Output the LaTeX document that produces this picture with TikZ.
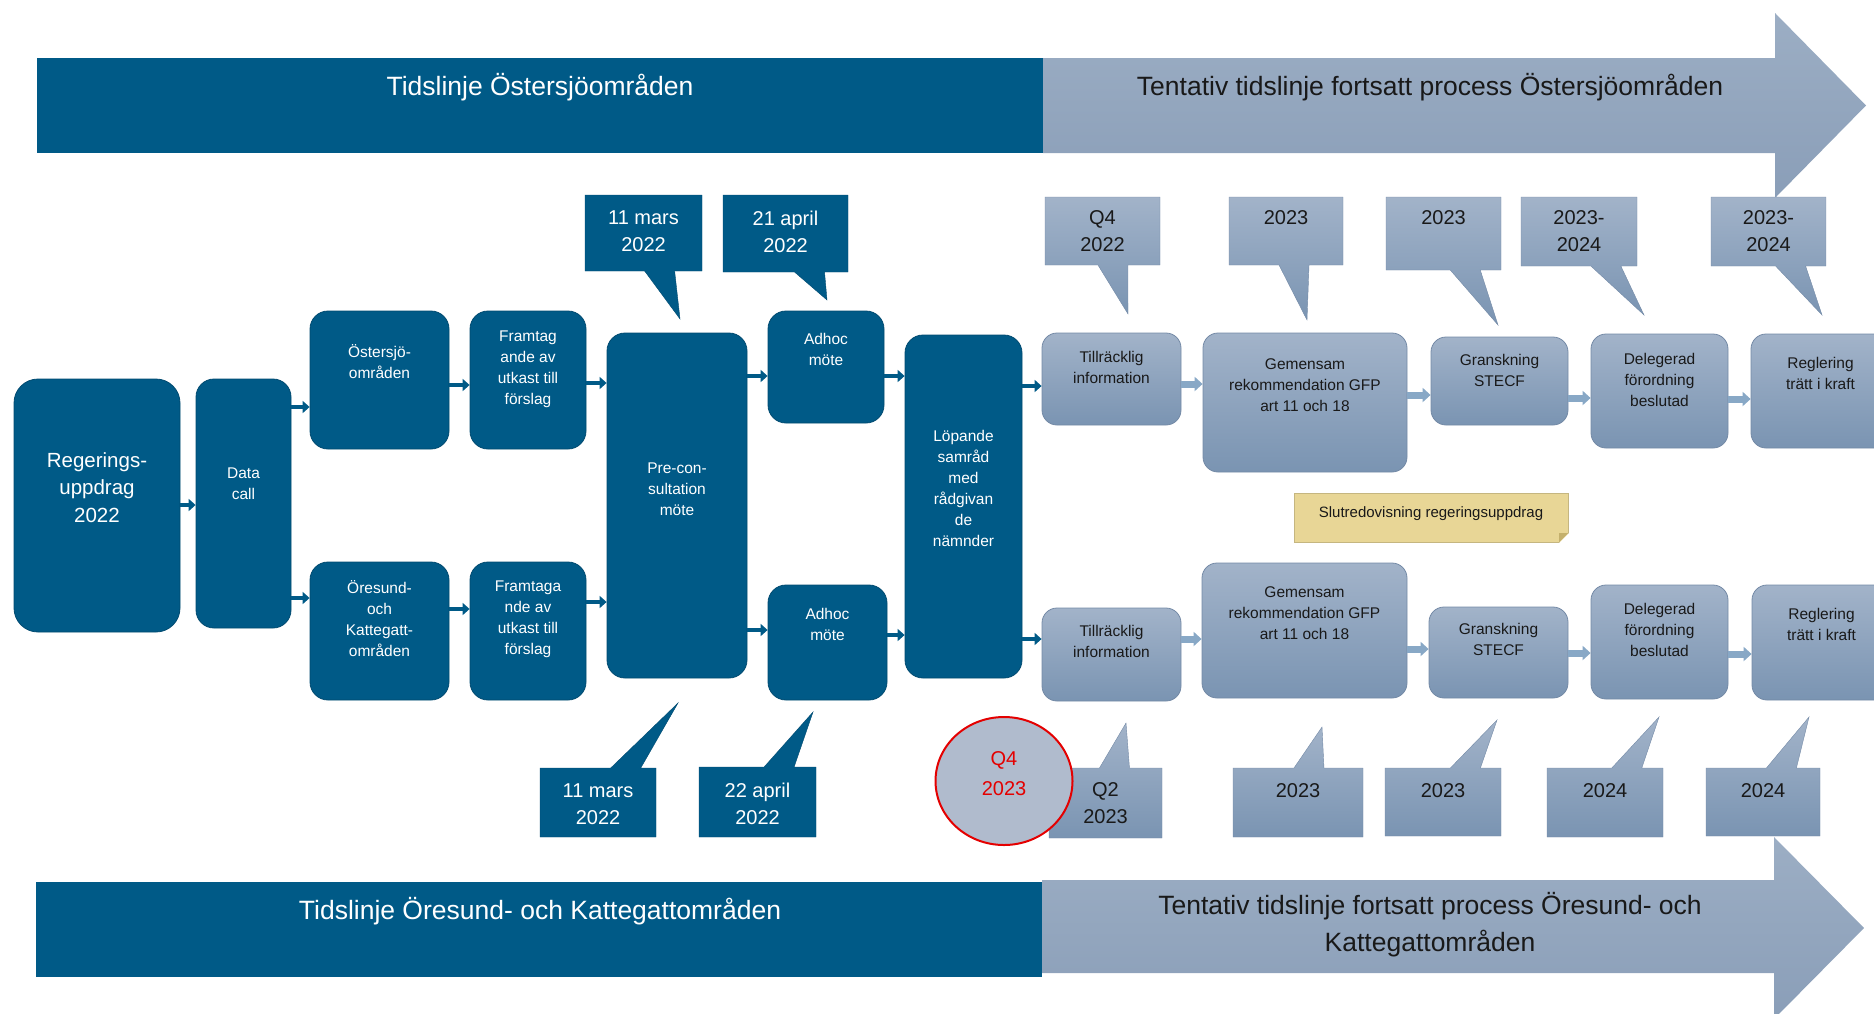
\documentclass[tikz,border=0pt]{standalone}
\usepackage{fontspec}
\setmainfont{Liberation Sans}
\usetikzlibrary{shapes.geometric,shapes.callouts,arrows.meta,calc}

\definecolor{darkblue}{RGB}{0,90,135}
\definecolor{darkedge}{RGB}{0,74,112}
\definecolor{lighttop}{RGB}{162,179,201}
\definecolor{lightbot}{RGB}{122,148,178}
\definecolor{lightedge}{RGB}{116,138,166}
\definecolor{bannertop}{RGB}{156,174,196}
\definecolor{bannerbot}{RGB}{138,158,184}
\definecolor{lightarrow}{RGB}{136,168,198}
\definecolor{notefill}{RGB}{232,214,150}
\definecolor{notefold}{RGB}{196,176,108}
\definecolor{ovalfill}{RGB}{176,187,205}
\definecolor{ovalred}{RGB}{228,0,0}
\definecolor{txtdark}{RGB}{25,25,25}

\newcommand{\lift}[2]{\raisebox{\dimexpr #1pt-.25em\relax}[0pt][0pt]{\begin{tabular}{@{}c@{}}#2\end{tabular}}}

\begin{document}
\begin{tikzpicture}[x=1pt,y=-1pt,
every node/.style={inner sep=0pt,font=\fontsize{15.5}{21}\selectfont},
dbox/.style={draw=darkedge,fill=darkblue,rounded corners=18pt,text=white,line width=0.8pt},
lbox/.style={draw=lightedge,top color=lighttop,bottom color=lightbot,rounded corners=15pt,text=txtdark,line width=0.8pt},
dcall/.style={rectangle callout,draw=darkedge,fill=darkblue,text=white,callout pointer width=30pt,font=\fontsize{20}{27}\selectfont},
lcall/.style={rectangle callout,draw=lightedge,top color=lighttop,bottom color=lightbot,text=txtdark,callout pointer width=30pt,font=\fontsize{20}{27}\selectfont},
darr/.style={line width=4pt,draw=darkblue,-{Triangle[length=7pt,width=12pt]}},
larr/.style={line width=7pt,draw=lightarrow,-{Triangle[length=8pt,width=14pt]}},
bannerw/.style={text=white,font=\fontsize{26.5}{37}\selectfont},
bannerk/.style={text=txtdark,font=\fontsize{26.5}{37}\selectfont},
note/.style={fill=notefill,draw=notefill!85!black,text=txtdark,font=\fontsize{15}{20}\selectfont},
oval/.style={ellipse,fill=ovalfill,draw=ovalred,line width=2pt,text=ovalred,font=\fontsize{20}{30}\selectfont}]
\useasboundingbox (0,0) rectangle (1874,1013);
\clip (0,0) rectangle (1874,1013);

% banners
\shade[top color=bannertop,bottom color=bannerbot] (1043,58) -- (1775,58) -- (1775,13) -- (1866,105.5) -- (1775,198) -- (1775,153) -- (1043,153) -- cycle;
\fill[darkblue] (37,58) rectangle (1043,153);
\node[bannerw] (tl1) at (540,87) {Tidslinje Östersjöområden};
\node[bannerk] (tr1) at (1430,87) {Tentativ tidslinje fortsatt process Östersjöområden};

\shade[top color=bannertop,bottom color=bannerbot] (1042,880) -- (1774,880) -- (1774,837) -- (1864,928) -- (1774,1019) -- (1774,973) -- (1042,973) -- cycle;
\fill[darkblue] (36,882) rectangle (1042,977);
\node[bannerw] (bl1) at (540,911) {Tidslinje Öresund- och Kattegattområden};
\node[bannerk] (br1) at (1430,925.5) {\lift{0}{Tentativ tidslinje fortsatt process Öresund- och\\Kattegattområden}};

% dark boxes
\node[dbox,font=\fontsize{20.5}{27.5}\selectfont,minimum width=166pt,minimum height=253pt,rounded corners=24pt] (reg) at (97,505.5) {\lift{16}{Regerings-\\uppdrag\\2022}};
\node[dbox,minimum width=95pt,minimum height=249pt] (data) at (243.5,503.5) {\lift{18.5}{Data\\call}};
\node[dbox,minimum width=139pt,minimum height=138pt] (ost) at (379.5,380) {\lift{16.5}{Östersjö-\\områden}};
\node[dbox,minimum width=116pt,minimum height=138pt] (fram1) at (528,380) {\lift{11.5}{Framtag\\ande av\\utkast till\\förslag}};
\node[dbox,minimum width=139pt,minimum height=138pt] (ore) at (379.5,631) {\lift{10.5}{Öresund-\\och\\Kattegatt-\\områden}};
\node[dbox,minimum width=116pt,minimum height=138pt] (fram2) at (528,631) {\lift{12}{Framtaga\\nde av\\utkast till\\förslag}};
\node[dbox,minimum width=140pt,minimum height=345pt] (pre) at (677,505.5) {\lift{15.5}{Pre-con-\\sultation\\möte}};
\node[dbox,minimum width=116pt,minimum height=112pt] (adh1) at (826,367) {\lift{16.5}{Adhoc\\möte}};
\node[dbox,minimum width=119pt,minimum height=115pt] (adh2) at (827.5,642.5) {\lift{17}{Adhoc\\möte}};
\node[dbox,minimum width=117pt,minimum height=343pt] (lop) at (963.5,506.5) {\lift{17}{Löpande\\samråd\\med\\rådgivan\\de\\nämnder}};

% light boxes
\node[lbox,minimum width=139pt,minimum height=92pt] (till1) at (1111.5,379) {\lift{10.5}{Tillräcklig\\information}};
\node[lbox,minimum width=204pt,minimum height=139pt] (gem1) at (1305,402.5) {\lift{16.5}{Gemensam\\rekommendation GFP\\art 11 och 18}};
\node[lbox,minimum width=137pt,minimum height=88pt] (gran1) at (1499.5,381) {\lift{9.5}{Granskning\\STECF}};
\node[lbox,minimum width=137pt,minimum height=114pt] (del1) at (1659.5,391) {\lift{10}{Delegerad\\förordning\\beslutad}};
\node[lbox,minimum width=139pt,minimum height=114pt] (regl1) at (1820.5,391) {\lift{16}{Reglering\\trätt i kraft}};
\node[lbox,minimum width=139pt,minimum height=93pt] (till2) at (1111.5,654.5) {\lift{12}{Tillräcklig\\information}};
\node[lbox,minimum width=205pt,minimum height=135pt] (gem2) at (1304.5,630.5) {\lift{16.5}{Gemensam\\rekommendation GFP\\art 11 och 18}};
\node[lbox,minimum width=139pt,minimum height=91pt] (gran2) at (1498.5,652.5) {\lift{12}{Granskning\\STECF}};
\node[lbox,minimum width=137pt,minimum height=114pt] (del2) at (1659.5,642) {\lift{11}{Delegerad\\förordning\\beslutad}};
\node[lbox,minimum width=139pt,minimum height=115pt] (regl2) at (1821.5,642.5) {\lift{16.5}{Reglering\\trätt i kraft}};

\node[note,minimum width=274pt,minimum height=49pt] (slut) at (1431,517.5) {\lift{4.5}{Slutredovisning regeringsuppdrag}};
\fill[white] ($(slut.south east)+(-9,0.6)$) -- ($(slut.south east)+(0.6,0.6)$) -- ($(slut.south east)+(0.6,-9)$) -- cycle;
\fill[notefold] ($(slut.south east)+(-9,0)$) -- ($(slut.south east)+(0,-9)$) -- ($(slut.south east)+(-9,-9)$) -- cycle;

% dates
\node[dcall,minimum width=117pt,minimum height=76pt,callout absolute pointer={(680,319)}] (c1) at (643.5,233) {\lift{0}{11 mars\\2022}};
\node[dcall,minimum width=125pt,minimum height=77pt,callout absolute pointer={(827,300)}] (c2) at (785.5,233.5) {\lift{0}{21 april\\2022}};
\node[dcall,minimum width=116pt,minimum height=69pt,callout absolute pointer={(678,703)}] (c3) at (598,802.5) {\lift{-3.5}{11 mars\\2022}};
\node[dcall,minimum width=117pt,minimum height=70pt,callout absolute pointer={(813,712)}] (c4) at (757.5,802) {\lift{-4}{22 april\\2022}};
\node[lcall,minimum width=115pt,minimum height=68pt,callout absolute pointer={(1128,314)}] (c5) at (1102.5,231) {\lift{-2}{Q4\\2022}};
\node[lcall,minimum width=114pt,minimum height=68pt,callout absolute pointer={(1307,320)}] (c6) at (1286,231) {\lift{12}{2023}};
\node[lcall,minimum width=115pt,minimum height=73pt,callout absolute pointer={(1498,325)}] (c7) at (1443.5,233.5) {\lift{14.5}{2023}};
\node[lcall,minimum width=116pt,minimum height=69pt,callout absolute pointer={(1644,315)}] (c8) at (1579,231.5) {\lift{-1.5}{2023-\\2024}};
\node[lcall,minimum width=115pt,minimum height=69pt,callout absolute pointer={(1822,315)}] (c9) at (1768.5,231.5) {\lift{-1.5}{2023-\\2024}};
\node[lcall,minimum width=113pt,minimum height=70pt,callout absolute pointer={(1126,723)}] (c10) at (1105.5,803) {\lift{-2}{Q2\\2023}};
\node[lcall,minimum width=130pt,minimum height=69pt,callout absolute pointer={(1322,727)}] (c11) at (1298,802.5) {\lift{10.5}{2023}};
\node[lcall,minimum width=116pt,minimum height=68pt,callout absolute pointer={(1497,720)}] (c12) at (1443,802) {\lift{10}{2023}};
\node[lcall,minimum width=116pt,minimum height=69pt,callout absolute pointer={(1659,717)}] (c13) at (1605,802.5) {\lift{10.5}{2024}};
\node[lcall,minimum width=114pt,minimum height=68pt,callout absolute pointer={(1809,717)}] (c14) at (1763,802) {\lift{10}{2024}};

\node[oval,minimum width=137pt,minimum height=128pt] (q4) at (1004,781) {\lift{6}{Q4\\2023}};

% arrows
\draw[darr] (reg.east |- 0,505) -- (data.west |- 0,505);
\draw[darr] (data.east |- 0,407) -- (ost.west |- 0,407);
\draw[darr] (data.east |- 0,598) -- (ore.west |- 0,598);
\draw[darr] (ost.east |- 0,385) -- (fram1.west |- 0,385);
\draw[darr] (ore.east |- 0,609) -- (fram2.west |- 0,609);
\draw[darr] (fram1.east |- 0,383) -- (pre.west |- 0,383);
\draw[darr] (fram2.east |- 0,602) -- (pre.west |- 0,602);
\draw[darr] (pre.east |- 0,376) -- (adh1.west |- 0,376);
\draw[darr] (pre.east |- 0,630) -- (adh2.west |- 0,630);
\draw[darr] (adh1.east |- 0,376) -- (lop.west |- 0,376);
\draw[darr] (adh2.east |- 0,635) -- (lop.west |- 0,635);
\draw[darr] (lop.east |- 0,386) -- (till1.west |- 0,386);
\draw[darr] (lop.east |- 0,639) -- (till2.west |- 0,639);

\draw[larr] (till1.east |- 0,384) -- (gem1.west |- 0,384);
\draw[larr] (gem1.east |- 0,395) -- (gran1.west |- 0,395);
\draw[larr] (gran1.east |- 0,398) -- (del1.west |- 0,398);
\draw[larr] (del1.east |- 0,399) -- (regl1.west |- 0,399);
\draw[larr] (till2.east |- 0,639) -- (gem2.west |- 0,639);
\draw[larr] (gem2.east |- 0,649) -- (gran2.west |- 0,649);
\draw[larr] (gran2.east |- 0,653) -- (del2.west |- 0,653);
\draw[larr] (del2.east |- 0,654) -- (regl2.west |- 0,654);
\end{tikzpicture}
\end{document}
